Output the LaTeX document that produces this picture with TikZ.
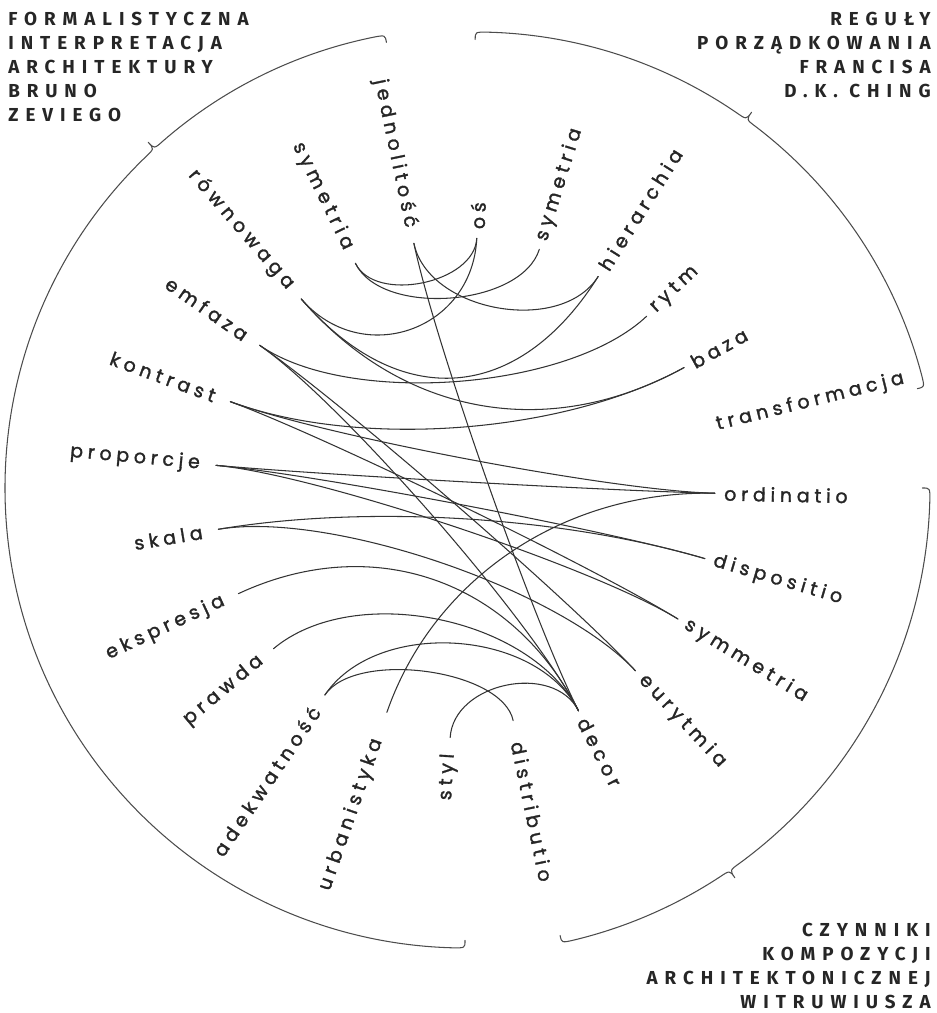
\documentclass[tikz,border=0pt]{standalone}
\usepackage{fontspec}
\usetikzlibrary{calc}
\newfontfamily\lblfont[LetterSpace=25, FakeBold=1.6]{Poppins}
\newfontfamily\ttlfont[LetterSpace=37]{Fira Sans}
\begin{document}
\begin{tikzpicture}[line join=round, line cap=round]
	\def\rc{5.0} \def\rl{5.32} \def\rr{5.18} % promienie etykiet
	\def\R{9.2}
	\tikzset{lbl/.style={font=\lblfont\fontsize{10.8}{12}\selectfont, text=black!85, inner sep=0pt},
		ttl/.style={font=\ttlfont\bfseries\fontsize{10.7}{13.6}\selectfont, text=black!85, inner sep=0pt},
		chord/.style={black!80, line width=0.6pt},
		klamra/.style={black!70, line width=0.6pt}}
	\useasboundingbox (-9.30,-10.50) rectangle (9.42,9.76);
	
	% Zevi - lewa strona
	\foreach \n/\ang/\rad/\txt in {jedn/101.8/5.0/jednolitość, symz/116/5.0/symetria, rown/130.9/5.0/równowaga, emf/145.2/5.0/emfaza, kon/159.8/5.0/kontrast, prop/174.8/5.0/proporcje, skala/189.5/5.0/skala, eksp/205/5.0/ekspresja, prawda/220/5.0/prawda, adek/235.9/5.0/adekwatność, urb/250.8/4.75/urbanistyka, styl/266.6/5.0/styl}{
		\coordinate (\n) at (\ang:\rad);
		\node[lbl, anchor=east, rotate=\ang+180] (t-\n) at (\ang:\rl) {\txt};
	}
	% Witruwiusz i Ching - prawa strona
	\foreach \n/\ang/\rad/\txt in {distr/281.7/4.75/distributio, decor/297/5.0/decor, eur/313/5.0/eurytmia, symm/328.4/5.0/symmetria, disp/343.6/5.0/dispositio, ord/358.8/5.0/ordinatio, transf/14/5.0/transformacja, baza/28.8/5.0/baza, rytm/43.4/5.0/rytm, hier/57.8/5.0/hierarchia, symc/72.7/5.0/symetria, os/87.3/5.0/oś}{
		\coordinate (\n) at (\ang:\rad);
		\node[lbl, anchor=west, rotate=\ang] (t-\n) at (\ang:\rr) {\txt};
	}
	
	% polaczenia
	\foreach \p/\q/\k in {os/symz/0.18, os/rown/0.37, symc/symz/0.24, hier/jedn/0.28, hier/rown/0.6, rytm/emf/0.43, baza/rown/0.62, baza/kon/0.55,
		jedn/decor/0.4, emf/eur/0.4, emf/decor/0.4, kon/ord/0.4, kon/symm/0.4, prop/ord/0.4, prop/disp/0.4, prop/symm/0.4, skala/disp/0.6, skala/eur/0.45,
		eksp/decor/0.59, prawda/decor/0.42, adek/decor/0.37, adek/distr/0.22, urb/ord/0.6, styl/decor/0.22}
		\draw[chord] (\p) .. controls ($(\p)!\k!(0,0)$) and ($(\q)!\k!(0,0)$) .. (\q);
	
	% klamry
	\draw[klamra] ({100}:{\R-0.15}) .. controls (100:\R) .. (101.5:\R) arc[start angle=101.5, end angle=131, radius=\R]
		.. controls (132.5:\R) .. ({132.5}:{\R+0.18}) .. controls (132.5:\R) .. (134:\R) arc[start angle=134, end angle=268.5, radius=\R]
		.. controls (270:\R) .. ({270}:{\R-0.15});
	\begin{scope}[shift={(0.22,-0.1)}]
	\draw[klamra] ({90.1}:{9.22-0.15}) .. controls (90.1:9.22) .. (88.6:9.22) arc[start angle=88.6, end angle=55.6, radius=9.22]
		.. controls (54.1:9.22) .. ({54.1}:{9.22+0.18}) .. controls (54.1:9.22) .. (52.6:9.22) arc[start angle=52.6, end angle=14.8, radius=9.22]
		.. controls (13.3:9.22) .. ({13.3}:{9.22-0.15});
	\end{scope}
	\draw[klamra] ({360}:{9.3-0.15}) .. controls (360:9.3) .. (358.5:9.3) arc[start angle=358.5, end angle=306.2, radius=9.3]
		.. controls (304.7:9.3) .. ({304.7}:{9.3+0.18}) .. controls (304.7:9.3) .. (303.2:9.3) arc[start angle=303.2, end angle=283.5, radius=9.3]
		.. controls (282:9.3) .. ({282}:{9.3-0.15});
	
	% tytuly
	\node[ttl, anchor=north west, align=left] (zevi) at (-9.14,9.52) {FORMALISTYCZNA\\INTERPRETACJA\\ARCHITEKTURY\\BRUNO\\ZEVIEGO};
	\node[ttl, anchor=north east, align=right] (ching) at (9.32,9.52) {REGUŁY\\PORZĄDKOWANIA\\FRANCISA\\D.K. CHING};
	\node[ttl, anchor=north east, align=right] (witr) at (9.32,-8.7) {CZYNNIKI\\KOMPOZYCJI\\ARCHITEKTONICZNEJ\\WITRUWIUSZA};
\end{tikzpicture}
\end{document}
